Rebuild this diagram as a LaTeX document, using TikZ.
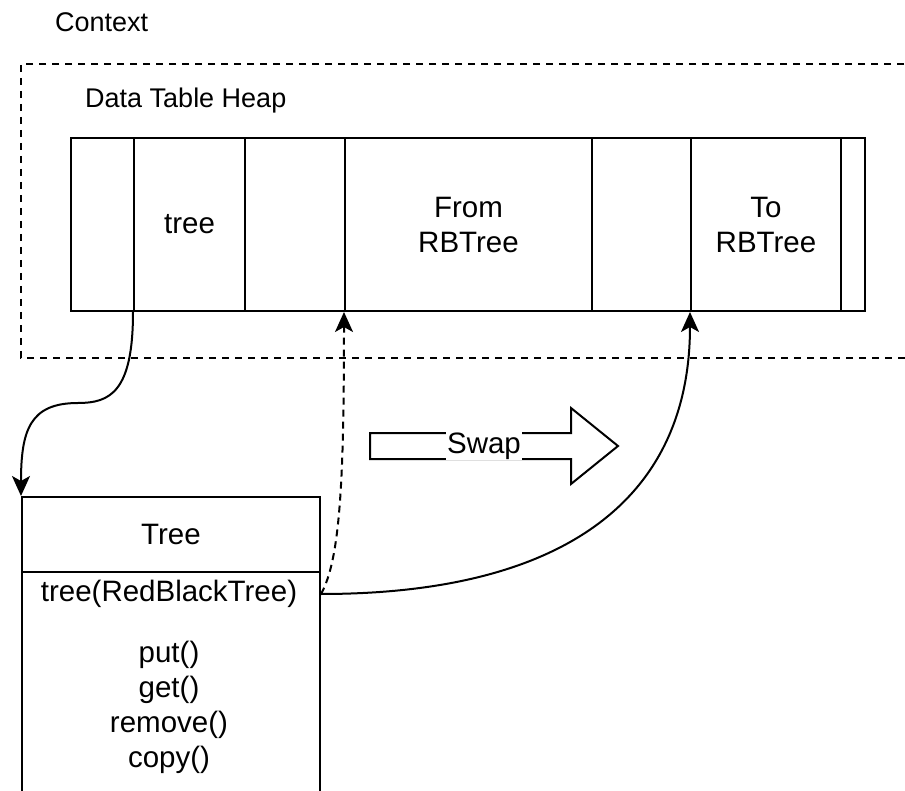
\documentclass[tikz,border=0pt]{standalone}
\usepackage{fontspec}
\setmainfont{Liberation Sans}
\usetikzlibrary{arrows.meta}
\begin{document}
\begin{tikzpicture}[x=1pt,y=-1pt,
  big/.style={font=\fontsize{29.5}{35}\selectfont},
  lbl/.style={big, inner sep=0pt, align=center},
  title/.style={font=\fontsize{27}{32}\selectfont, inner sep=0pt, anchor=base west},
  cell/.style={draw, line width=2pt, minimum height=173pt, anchor=north west, inner sep=0pt,
    big, align=center},
  box/.style={draw, line width=2pt, anchor=north west, minimum width=298pt, inner sep=0pt, big},
  frame/.style={draw, line width=2pt, dash pattern=on 7pt off 6pt},
  link/.style={line width=2pt, -{Stealth[length=20pt, width=18pt, inset=5pt]}},
  dlink/.style={link, dash pattern=on 7pt off 5pt},
]
\useasboundingbox (0,0) rectangle (905,791);
\clip (0,0) rectangle (905,791);

% outer context region
\node[title] (ctx) at (55,32) {Context};
\draw[frame] (930,64) -- (21,64) -- (21,358) -- (930,358);

% data table heap
\node[title] (heap) at (85,108) {Data Table Heap};
\node[cell, minimum width=63pt]  (c1) at (70,137)  {};
\node[cell, minimum width=111pt] (c2) at (133,137) {tree};
\node[cell, minimum width=100pt] (c3) at (244,137) {};
\node[cell, minimum width=247pt] (c4) at (344,137) {From\\RBTree};
\node[cell, minimum width=99pt]  (c5) at (591,137) {};
\node[cell, minimum width=150pt] (c6) at (690,137) {To\\RBTree};
\node[cell, minimum width=24pt]  (c7) at (840,137) {};

% Tree class box
\node[box, minimum height=75pt] (thead) at (21,496) {Tree};
\node[box, minimum height=260pt] (tbody) at (21,571) {};
\node[lbl] (field) at (169,594) {tree(RedBlackTree)};
\node[lbl] (methods) at (169,707) {put()\\get()\\remove()\\copy()};
\coordinate (port) at (tbody.east |- field);

% swap arrow
\draw[line width=2pt] (370,433) -- (571,433) -- (571,408) -- (618,446) -- (571,484)
  -- (571,459) -- (370,459) -- cycle;
\node[lbl, fill=white, inner sep=1pt] (swap) at (484,446) {Swap};

% connectors
\draw[link] (c2.south west) .. controls +(0,80) and +(32,0) .. (78,403)
  .. controls +(-48,0) and +(0,-66) .. (thead.north west);
\draw[dlink] (port) .. controls +(19,-34) and +(0,170) .. (c4.south west);
\draw[link] (port) .. controls +(239,0) and +(0,190) .. (c6.south west);
\end{tikzpicture}
\end{document}
